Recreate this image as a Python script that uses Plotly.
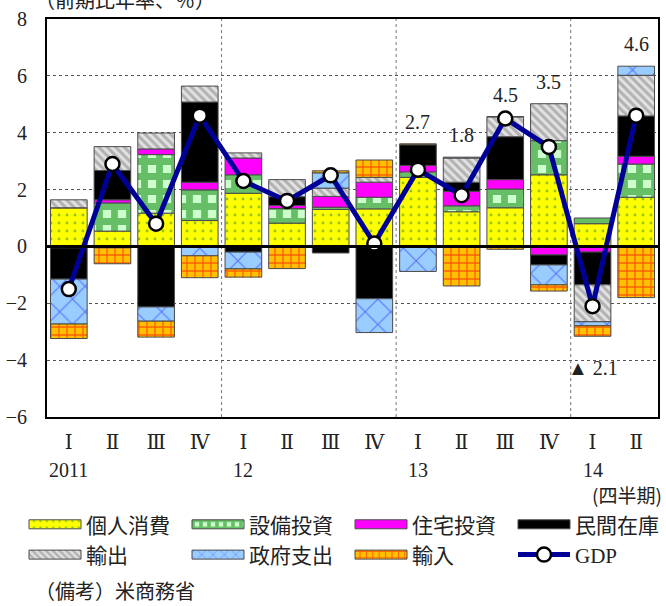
import plotly.graph_objects as go

# Quarterly contributions to US real GDP growth (annualised q/q, % points)
quarters = ["2011-I", "2011-II", "2011-III", "2011-IV",
            "2012-I", "2012-II", "2012-III", "2012-IV",
            "2013-I", "2013-II", "2013-III", "2013-IV",
            "2014-I", "2014-II"]
quarter_ticks = ["Ⅰ", "Ⅱ", "Ⅲ", "Ⅳ", "Ⅰ", "Ⅱ", "Ⅲ", "Ⅳ", "Ⅰ", "Ⅱ", "Ⅲ", "Ⅳ", "Ⅰ", "Ⅱ"]
year_labels = {"2011-I": "2011", "2012-I": "12", "2013-I": "13", "2014-I": "14"}

consumption = [1.36, 0.54, 1.17, 0.91, 1.87, 0.82, 1.30, 1.32, 2.43, 1.22, 1.36, 2.52, 0.80, 1.73]
equipment = [-0.05, 0.99, 2.06, 1.08, 0.65, 0.51, 0.08, 0.41, 0.19, 0.21, 0.66, 1.20, 0.20, 1.17]
residential = [0.0, 0.11, 0.20, 0.27, 0.59, 0.11, 0.38, 0.53, 0.23, 0.51, 0.33, -0.30, -0.20, 0.27]
inventory = [-1.10, 1.03, -2.13, 2.82, -0.20, 0.31, -0.23, -1.84, 0.73, 0.32, 1.51, -0.35, -1.15, 1.42]
exports = [0.28, 0.84, 0.56, 0.56, 0.18, 0.60, 0.29, 0.17, 0.0, 0.85, 0.70, 1.30, -1.30, 1.43]
government = [-1.58, -0.05, -0.50, -0.33, -0.59, -0.03, 0.54, -1.19, -0.88, 0.03, 0.0, -0.70, -0.14, 0.32]
imports = [-0.51, -0.56, -0.56, -0.77, -0.29, -0.75, 0.07, 0.61, 0.03, -1.39, -0.10, -0.22, -0.37, -1.80]
gdp = [-1.5, 2.9, 0.8, 4.6, 2.3, 1.6, 2.5, 0.1, 2.7, 1.8, 4.5, 3.5, -2.1, 4.6]
labelled_quarters = ["2013-I", "2013-II", "2013-III", "2013-IV", "2014-I", "2014-II"]

SERIF = "Liberation Serif, DejaVu Serif, serif"
JP = "Noto Sans CJK JP, sans-serif"
TEXT = "#222222"
OUTLINE = dict(color="#4a4a4a", width=1)

components = [
    ("個人消費", consumption, dict(shape=".", bgcolor="#ffff00", fgcolor="#228b22", size=8, solidity=0.1)),
    ("設備投資", equipment, dict(shape="+", bgcolor="#ccffcc", fgcolor="#008000", size=15, solidity=0.7)),
    ("住宅投資", residential, dict(shape="", bgcolor="#ff00ff", fgcolor="#ff00ff")),
    ("民間在庫", inventory, dict(shape="", bgcolor="#000000", fgcolor="#000000")),
    ("輸出", exports, dict(shape="\\", bgcolor="#e2e2e2", fgcolor="#7f7f7f", size=6, solidity=0.5)),
    ("政府支出", government, dict(shape="x", bgcolor="#99ccff", fgcolor="#1a1aff", size=18, solidity=0.12)),
    ("輸入", imports, dict(shape="+", bgcolor="#ffc000", fgcolor="#ff0000", size=8, solidity=0.3)),
]

fig = go.Figure()
for name, values, pattern in components:
    fig.add_trace(go.Bar(
        x=quarters, y=values, name=name,
        marker=dict(color=pattern["bgcolor"], pattern=pattern, line=OUTLINE),
    ))

fig.add_trace(go.Scatter(
    x=quarters, y=gdp, name="<span style='font-family:Liberation Serif'>GDP</span>",
    mode="lines+markers",
    line=dict(color="#000099", width=5),
    marker=dict(size=14, color="white", line=dict(color="black", width=2.5)),
    cliponaxis=False,
))

# GDP value labels above (or below) each labelled stack
annotations = []
for q in labelled_quarters:
    i = quarters.index(q)
    parts = [c[1][i] for c in components]
    v = gdp[i]
    if v >= 0:
        top = sum(p for p in parts if p > 0)
        annotations.append(dict(x=q, y=top, xref="x", yref="y", text=f"{v:.1f}",
                                showarrow=False, yanchor="bottom", yshift=9,
                                font=dict(family=SERIF, size=20, color=TEXT)))
    else:
        bottom = sum(p for p in parts if p < 0)
        annotations.append(dict(x=q, y=bottom, xref="x", yref="y", text=f"▲ {abs(v):.1f}",
                                showarrow=False, yanchor="top", yshift=-19,
                                font=dict(family=SERIF, size=20, color=TEXT)))

for q, label in year_labels.items():
    annotations.append(dict(x=q, y=-0.133, xref="x", yref="paper", text=label,
                            showarrow=False, yanchor="middle",
                            font=dict(family=SERIF, size=20, color=TEXT)))

annotations += [
    dict(x=-0.0227, y=1.05, xref="paper", yref="paper", text="（前期比年率、％）",
         showarrow=False, xanchor="left", yanchor="middle",
         font=dict(family=JP, size=20, color=TEXT)),
    dict(x=1.0, y=-0.194, xref="paper", yref="paper", text="(四半期)", xshift=6,
         showarrow=False, xanchor="right", yanchor="middle",
         font=dict(family=JP, size=19, color=TEXT)),
    dict(x=-0.0227, y=-0.437, xref="paper", yref="paper", text="（備考）米商務省",
         showarrow=False, xanchor="left", yanchor="middle",
         font=dict(family=JP, size=20, color=TEXT)),
]

# year separators and the zero line drawn over the bars
shapes = [dict(type="line", xref="x", yref="paper", x0=b, x1=b, y0=0, y1=1,
               line=dict(color="#777777", width=1, dash="dot"), layer="below")
          for b in (3.5, 7.5, 11.5)]
shapes.append(dict(type="line", xref="paper", yref="y", x0=0, x1=1, y0=0, y1=0,
                   line=dict(color="black", width=3), layer="above"))

y_ticks = list(range(-6, 9, 2))
fig.update_layout(
    width=666, height=606,
    margin=dict(l=44, r=6, t=19, b=189),
    paper_bgcolor="white", plot_bgcolor="white",
    barmode="relative", bargap=0.16,
    showlegend=True,
    legend=dict(orientation="h", x=-0.011, xanchor="left", y=-0.219, yanchor="top",
                itemwidth=62, entrywidth=86, traceorder="normal",
                font=dict(family=JP, size=21, color=TEXT),
                bgcolor="rgba(0,0,0,0)"),
    annotations=annotations,
    shapes=shapes,
    xaxis=dict(type="category", categoryorder="array", categoryarray=quarters,
               range=[-0.5, 13.5], tickvals=quarters, ticktext=quarter_ticks,
               showgrid=False, showline=True, mirror=True, linecolor="black",
               linewidth=2, ticks="", ticklabelstandoff=6,
               tickfont=dict(family=SERIF, size=20, color=TEXT)),
    yaxis=dict(range=[-6, 8], tickvals=y_ticks,
               ticktext=[str(t).replace("-", "−") for t in y_ticks],
               showgrid=True, gridcolor="#555555", gridwidth=1, griddash="3px,3px",
               zeroline=False, showline=True, mirror=True, linecolor="black",
               linewidth=2, ticks="", ticklabelstandoff=14,
               tickfont=dict(family=SERIF, size=20, color=TEXT)),
)

# legend samples: flat 52px strips (and a 52px GDP line) ending just before the text
legend_samples = """
var gd = document.getElementById('{plot_id}');
function shapeSamples() {
    gd.querySelectorAll('g.legend g.traces').forEach(function (item) {
        var t = item.querySelector('text.legendtext');
        if (!t) { return; }
        var tx = parseFloat(t.getAttribute('x'));
        if (isNaN(tx)) { return; }
        var left = tx - 57, right = tx - 5, mid = (left + right) / 2;
        item.querySelectorAll('g.legendpoints path').forEach(function (p) {
            var isBar = p.classList.contains('legendbar') ||
                        (p.getAttribute('d') || '').indexOf('M6,6H-6V-6H6Z') === 0 ||
                        p.getAttribute('data-sample') === '1';
            if (isBar) {
                var m = (p.getAttribute('transform') || '').match(/translate\\(\\s*([-0-9.]+)/);
                var cx = m ? parseFloat(m[1]) : 0;
                var x0 = left - cx, x1 = right - cx;
                p.setAttribute('d', 'M' + x1 + ',4.5H' + x0 + 'V-4.5H' + x1 + 'Z');
                p.setAttribute('data-sample', '1');
            } else if (p.classList.contains('scatterpts')) {
                p.setAttribute('transform', 'translate(' + mid + ',0)');
            }
        });
        item.querySelectorAll('g.legendlines path').forEach(function (p) {
            p.setAttribute('d', 'M' + left + ',0H' + right);
        });
    });
}
shapeSamples();
if (gd.on) { gd.on('plotly_afterplot', shapeSamples); }
setTimeout(shapeSamples, 50);
setTimeout(shapeSamples, 300);
"""

fig.write_html("out.html", config={"displayModeBar": False, "responsive": False},
               post_script=legend_samples)
